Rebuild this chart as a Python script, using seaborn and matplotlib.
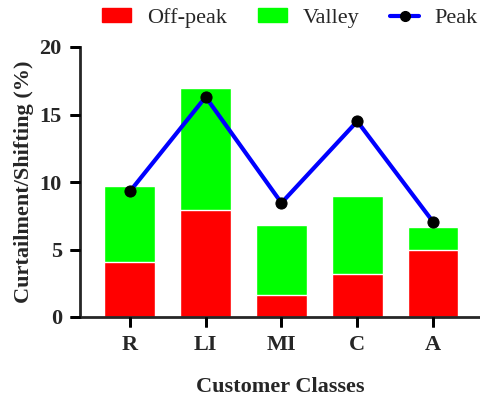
from matplotlib import pyplot as plt
from matplotlib.patches import Patch
from matplotlib.lines import Line2D
import pandas as pd
import seaborn as sns

classes = ["R", "LI", "MI", "C", "A"]
off_peak = [4.1, 7.95, 1.6, 3.15, 5.0]
valley = [5.6, 9.05, 5.25, 5.8, 1.65]
peak = [9.3, 16.3, 8.45, 14.5, 7.05]

df = pd.DataFrame({"Class": classes, "Off-peak": off_peak,
                   "Valley": valley, "Peak": peak})
df["Total"] = df["Off-peak"] + df["Valley"]

sns.set_style("ticks")
plt.rcParams["font.family"] = ["Liberation Serif", "DejaVu Serif"]
plt.rcParams["axes.linewidth"] = 2

fig = plt.figure(figsize=(4.81, 4.0), dpi=100)
ax = fig.add_axes([0.166, 0.2075, 0.832, 0.675])

# stacked bars: green total behind, red off-peak in front
sns.barplot(data=df, x="Class", y="Total", color="#00ff00", saturation=1,
            width=0.67, ax=ax)
sns.barplot(data=df, x="Class", y="Off-peak", color="#ff0000", saturation=1,
            width=0.67, ax=ax)
sns.lineplot(data=df, x="Class", y="Peak", color="#0000ff", linewidth=3,
             marker="o", markersize=8, markerfacecolor="black",
             markeredgecolor="black", ax=ax)

ax.set_xlim(-0.66, 4.62)
ax.set_ylim(0, 20)
ax.set_yticks([0, 5, 10, 15, 20])
sns.despine(ax=ax)
ax.set_axisbelow(False)
ax.tick_params(axis="both", which="major", bottom=True, left=True,
               direction="out", width=2, length=7, color="black", pad=6)

# tick marks again as figure-level lines on top of everything
tick_px = 7 * fig.dpi / 72
bbox = ax.get_position()
tx = tick_px / (bbox.height * fig.get_figheight() * fig.dpi)
ty = tick_px / (bbox.width * fig.get_figwidth() * fig.dpi)
for xt in ax.get_xticks():
    fig.add_artist(Line2D([xt, xt], [0, -tx], transform=ax.get_xaxis_transform(),
                          color="black", lw=2, solid_capstyle="butt", zorder=100))
for yt in ax.get_yticks():
    fig.add_artist(Line2D([0, -ty], [yt, yt], transform=ax.get_yaxis_transform(),
                          color="black", lw=2, solid_capstyle="butt", zorder=100))

for lab in ax.get_xticklabels() + ax.get_yticklabels():
    lab.set_fontweight("bold")
    lab.set_fontsize(16)
ax.set_xlabel("Customer Classes", fontsize=16, fontweight="bold", labelpad=16)
ax.set_ylabel("Curtailment/Shifting (%)", fontsize=16, fontweight="bold",
              labelpad=4)

handles = [Patch(color="#ff0000"), Patch(color="#00ff00"),
           Line2D([0], [0], color="#0000ff", lw=3, marker="o",
                  markersize=7, markerfacecolor="black", markeredgecolor="black")]
fig.legend(handles, ["Off-peak", "Valley", "Peak"], loc="center",
           bbox_to_anchor=(0.603, 0.955), ncol=3, frameon=False, fontsize=16,
           handlelength=1.3, handleheight=0.6, handletextpad=0.7,
           columnspacing=1.4)

plt.savefig("out.png", dpi=100)
